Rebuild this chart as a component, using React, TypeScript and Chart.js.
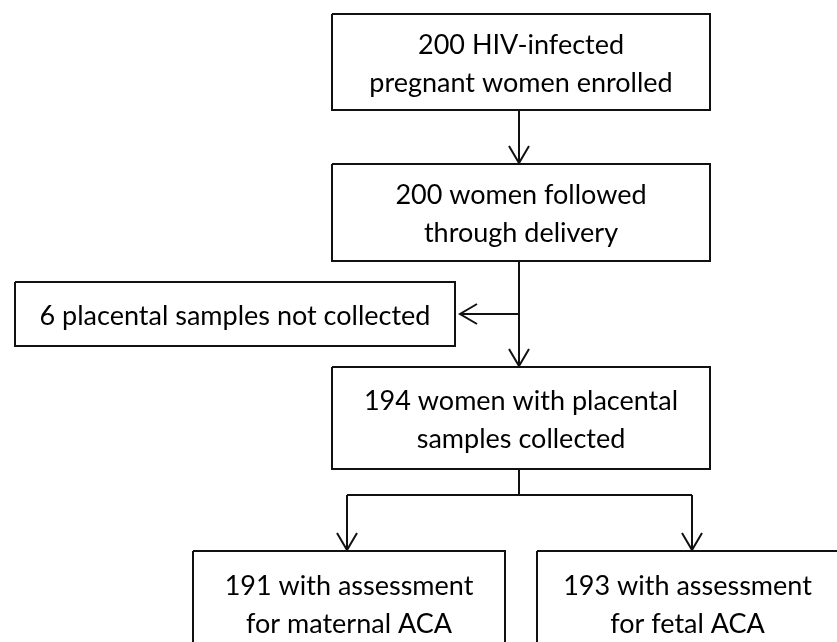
import React, { useEffect, useRef } from "react";
import { Chart, registerables } from "chart.js";

Chart.register(...registerables);

// Flowchart nodes (data units = pixel grid of the 837x642 figure)
const boxLabels: string[][] = [
  ["200 HIV-infected", "pregnant women enrolled"],
  ["200 women followed", "through delivery"],
  ["6 placental samples not collected"],
  ["194 women with placental", "samples collected"],
  ["191 with assessment", "for maternal ACA"],
  ["193 with assessment", "for fetal ACA"],
];
const boxLeft = [332, 332, 15, 332, 193, 537];
const boxRight = [710, 710, 455, 710, 505, 838];
const boxTop = [14, 164, 282, 367, 551, 551];
const boxBottom = [110, 261, 346, 469, 655, 655];

// Connectors: polylines, and whether they end in an arrowhead
const connectorX: number[][] = [
  [519, 519],
  [519, 519],
  [519, 460],
  [519, 519],
  [347, 692],
  [347, 347],
  [692, 692],
];
const connectorY: number[][] = [
  [110, 163],
  [261, 366],
  [314, 314],
  [469, 495],
  [495, 495],
  [495, 550],
  [495, 550],
];
const connectorArrow = [true, true, true, false, false, true, true];

const ARROW_LEN = 17;
const ARROW_HALF = 10;
const LINE_COLOR = "#111111";
const FONT = "27px Lato, 'Open Sans', sans-serif";
const LINE_GAP = 38;

export default function App() {
  const ref = useRef<HTMLCanvasElement | null>(null);

  useEffect(() => {
    document.body.style.margin = "0";
    const canvas = ref.current;
    if (!canvas) return;

    const datasets: any[] = [];
    boxLabels.forEach((_, i) => {
      datasets.push({
        data: [
          { x: boxLeft[i], y: boxTop[i] },
          { x: boxRight[i], y: boxTop[i] },
          { x: boxRight[i], y: boxBottom[i] },
          { x: boxLeft[i], y: boxBottom[i] },
          { x: boxLeft[i], y: boxTop[i] },
        ],
      });
    });
    connectorX.forEach((xs, i) => {
      const ys = connectorY[i];
      datasets.push({ data: xs.map((x, k) => ({ x, y: ys[k] })) });
      if (connectorArrow[i]) {
        const n = xs.length;
        const tx = xs[n - 1], ty = ys[n - 1];
        const dx = tx - xs[n - 2], dy = ty - ys[n - 2];
        const len = Math.hypot(dx, dy) || 1;
        const ux = dx / len, uy = dy / len;
        const bx = tx - ux * ARROW_LEN, by = ty - uy * ARROW_LEN;
        const px = -uy * ARROW_HALF, py = ux * ARROW_HALF;
        datasets.push({
          data: [
            { x: bx + px, y: by + py },
            { x: tx, y: ty },
            { x: bx - px, y: by - py },
          ],
        });
      }
    });
    datasets.forEach((d) => {
      d.type = "line";
      d.borderColor = LINE_COLOR;
      d.borderWidth = 2;
      d.pointRadius = 0;
      d.fill = false;
      d.tension = 0;
      d.borderJoinStyle = "miter";
      d.borderCapStyle = "butt";
      d.clip = false;
    });

    const labelPlugin = {
      id: "boxLabels",
      afterDatasetsDraw(chart: any) {
        const { ctx, scales } = chart;
        ctx.save();
        ctx.fillStyle = "#000000";
        ctx.font = FONT;
        ctx.textAlign = "center";
        ctx.textBaseline = "middle";
        boxLabels.forEach((lines, i) => {
          const cx = scales.x.getPixelForValue((boxLeft[i] + boxRight[i]) / 2);
          const cy = scales.y.getPixelForValue((boxTop[i] + boxBottom[i]) / 2);
          const start = cy - ((lines.length - 1) * LINE_GAP) / 2;
          lines.forEach((t, k) => ctx.fillText(t, cx, start + k * LINE_GAP + 2));
        });
        ctx.restore();
      },
    };

    const chart = new Chart(canvas, {
      type: "line",
      data: { datasets },
      options: {
        animation: false,
        responsive: false,
        maintainAspectRatio: false,
        layout: { padding: 0 },
        plugins: { legend: { display: false }, tooltip: { enabled: false } },
        scales: {
          x: { type: "linear", min: 0, max: 837, display: false },
          y: { type: "linear", min: 0, max: 642, reverse: true, display: false },
        },
      },
      plugins: [labelPlugin],
    });
    return () => chart.destroy();
  }, []);

  return (
    <div style={{ width: 837, height: 642, background: "#ffffff" }}>
      <canvas ref={ref} width={837} height={642} style={{ display: "block" }} />
    </div>
  );
}
